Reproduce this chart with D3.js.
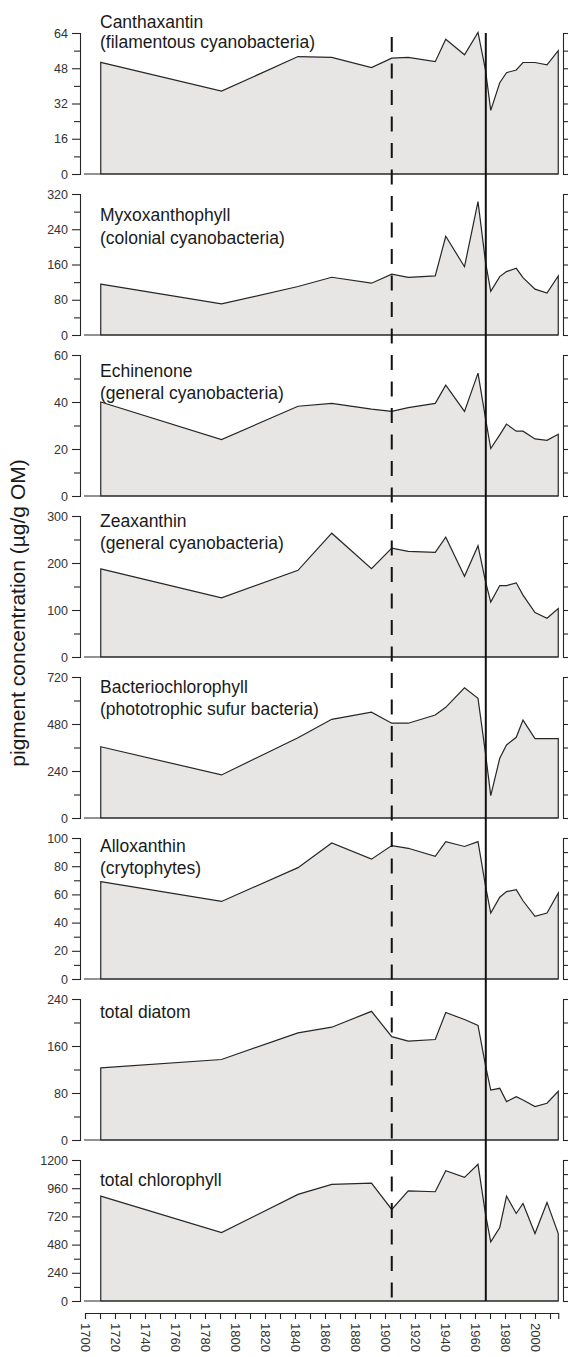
<!DOCTYPE html>
<html>
<head>
<meta charset="utf-8">
<script src="https://cdn.jsdelivr.net/npm/d3@7"></script>
<style>
  html, body { margin: 0; padding: 0; background: #ffffff; }
  svg { display: block; font-family: "Liberation Sans", Arial, sans-serif; }
</style>
</head>
<body>
<svg id="chart" width="568" height="1357"></svg>
<script>
// ---------------- data ----------------
const years = [1710.5, 1791, 1842, 1864.5, 1891, 1904.5, 1915.5, 1933.5, 1940.5, 1953, 1962, 1967, 1970.5, 1976.5, 1981, 1987.5, 1992, 2000, 2008, 2015.5];

const canthaxantin      = [50.7, 37.6, 53.3, 52.9, 48.3, 52.6, 52.9, 51, 61.2, 54.1, 64.3, 47.2, 28.9, 41.4, 46, 47.2, 50.6, 50.6, 49.5, 56];
const myxoxanthophyll   = [115.5, 70.6, 110, 131, 117.6, 138, 131, 134, 224, 155, 302.7, 166, 99, 132.6, 143.8, 151.4, 130, 104, 95, 134];
const echinenone        = [40, 24, 38.2, 39.4, 37, 36, 37.6, 39.4, 47.2, 36, 52.3, 33, 20.2, 26, 30.6, 27.6, 27.6, 24.3, 23.7, 26.3];
const zeaxanthin        = [187.4, 126, 184.5, 263.4, 188, 231.7, 224.6, 222.5, 255, 171.8, 236.6, 161, 116.9, 152, 152, 157.8, 131.6, 94.4, 82.4, 102.9];
const bacteriochlorophyll = [364, 220, 410, 504, 540, 484, 484, 526, 565, 665, 611, 330, 114, 305, 373, 412, 500, 405, 405, 405];
const alloxanthin       = [69, 55, 79, 96.5, 85, 94.6, 92.7, 87, 97.4, 94, 97.4, 66, 46.8, 58, 62, 63.4, 55.5, 44.4, 46.8, 61];
const totalDiatom       = [122.8, 137, 182.4, 192, 219, 176, 168.4, 171, 217, 205, 195, 127, 85, 88, 65.4, 73.8, 68, 57, 62.5, 83];
const totalChlorophyll  = [893, 583, 907, 992, 1004, 779, 938, 930, 1109, 1052, 1163, 740, 503, 626, 893, 745, 830, 574, 839, 574];

const titles = [
  ["Canthaxantin", "(filamentous cyanobacteria)"],
  ["Myxoxanthophyll", "(colonial cyanobacteria)"],
  ["Echinenone", "(general cyanobacteria)"],
  ["Zeaxanthin", "(general cyanobacteria)"],
  ["Bacteriochlorophyll", "(phototrophic sufur bacteria)"],
  ["Alloxanthin", "(crytophytes)"],
  ["total diatom"],
  ["total chlorophyll"]
];
const seriesList = [canthaxantin, myxoxanthophyll, echinenone, zeaxanthin, bacteriochlorophyll, alloxanthin, totalDiatom, totalChlorophyll];
const axisMax    = [64, 320, 60, 300, 720, 100, 240, 1200];
const labelStep  = [16, 80, 20, 100, 240, 20, 80, 240];
const minorStep  = [8, 40, 10, 50, 120, 10, 40, 120];

const yearTicks = d3.range(1700, 2011, 10);
const yearLabelStep = 20;
const dashedYear = 1904.5;
const solidYear = 1967.2;
const yAxisTitle = "pigment concentration (\u00b5g/g OM)";

// ---------------- layout ----------------
const svg = d3.select("#chart");
const panelTop0 = 33, panelGap = 161, panelH = 141;
const leftAxisX = 80, rightAxisX = 563;
const titleOffsets = [[-5, 15], [27, 50], [22, 44], [11, 33], [16, 38], [14, 36], [19], [26]];

const x = d3.scaleLinear().domain([1700, 2015.5]).range([85, 558.25]);

svg.append("rect").attr("width", 568).attr("height", 1357).attr("fill", "#ffffff");

seriesList.forEach((vals, i) => {
  const top = panelTop0 + panelGap * i;
  const bottom = top + panelH;
  const y = d3.scaleLinear().domain([0, axisMax[i]]).range([bottom, top]);
  const g = svg.append("g");

  const pts = years.map((yr, k) => [yr, vals[k]]);
  const area = d3.area().x(d => x(d[0])).y0(y(0)).y1(d => y(d[1]));
  g.append("path")
    .attr("d", area(pts))
    .attr("fill", "#e8e6e4")
    .attr("stroke", "#262626")
    .attr("stroke-width", 1.2)
    .attr("stroke-linejoin", "miter");

  // baseline
  g.append("line")
    .attr("x1", x(1700) - 1).attr("x2", x(years[years.length - 1]))
    .attr("y1", y(0)).attr("y2", y(0))
    .attr("stroke", "#262626").attr("stroke-width", 1.2);

  // left axis
  const allTicks = d3.range(0, axisMax[i] + 0.001, minorStep[i]);
  const isMajor = v => Math.abs(v / labelStep[i] - Math.round(v / labelStep[i])) < 1e-6;
  const la = g.append("g").attr("transform", `translate(${leftAxisX},0)`)
    .call(d3.axisLeft(y).tickValues(allTicks).tickSizeOuter(0).tickSize(8).tickPadding(4)
      .tickFormat(v => isMajor(v) ? v : ""));
  la.select(".domain").attr("stroke", "#262626").attr("stroke-width", 1.1);
  la.selectAll(".tick line").attr("stroke", "#262626").attr("stroke-width", 1.1)
    .attr("x2", v => isMajor(v) ? -8 : -6);
  la.selectAll(".tick text").attr("font-size", 12.5).attr("fill", "#333")
    .attr("font-family", "Liberation Sans, Arial, sans-serif");

  // right axis
  const ra = g.append("g").attr("transform", `translate(${rightAxisX},0)`)
    .call(d3.axisRight(y).tickValues(allTicks).tickSizeOuter(0).tickSize(8).tickFormat(""));
  ra.select(".domain").attr("stroke", "#262626").attr("stroke-width", 1.1);
  ra.selectAll(".tick line").attr("stroke", "#262626").attr("stroke-width", 1.1);

  // titles
  titles[i].forEach((t, k) => {
    g.append("text")
      .attr("x", 100).attr("y", top + titleOffsets[i][k])
      .attr("font-size", 17.5).attr("fill", "#1a1a1a")
      .text(t);
  });
});

// vertical marker lines
const firstTop = panelTop0;
const lastBottom = panelTop0 + panelGap * 7 + panelH;
svg.append("line")
  .attr("x1", x(dashedYear)).attr("x2", x(dashedYear))
  .attr("y1", firstTop + 4).attr("y2", lastBottom)
  .attr("stroke", "#111").attr("stroke-width", 2)
  .attr("stroke-dasharray", "15,11.5");
svg.append("line")
  .attr("x1", x(solidYear)).attr("x2", x(solidYear))
  .attr("y1", firstTop).attr("y2", lastBottom)
  .attr("stroke", "#111").attr("stroke-width", 2);

// bottom year axis
const xa = svg.append("g").attr("transform", `translate(0,${lastBottom + 12})`)
  .call(d3.axisBottom(x).tickValues(yearTicks).tickSizeOuter(0).tickSize(6).tickFormat(""));
xa.select(".domain").attr("stroke", "#262626").attr("stroke-width", 1.1);
xa.selectAll(".tick line").attr("stroke", "#262626").attr("stroke-width", 1.1);

svg.append("g").selectAll("text")
  .data(yearTicks.filter(v => v % yearLabelStep === 0))
  .join("text")
  .attr("transform", d => `translate(${x(d)},${lastBottom + 22}) rotate(90)`)
  .attr("text-anchor", "start")
  .attr("dominant-baseline", "central")
  .attr("font-size", 13).attr("fill", "#333")
  .text(d => d);

// y axis title
svg.append("text")
  .attr("transform", `translate(25,613) rotate(-90)`)
  .attr("text-anchor", "middle")
  .attr("font-size", 21).attr("fill", "#1a1a1a")
  .text(yAxisTitle);
</script>
</body>
</html>
